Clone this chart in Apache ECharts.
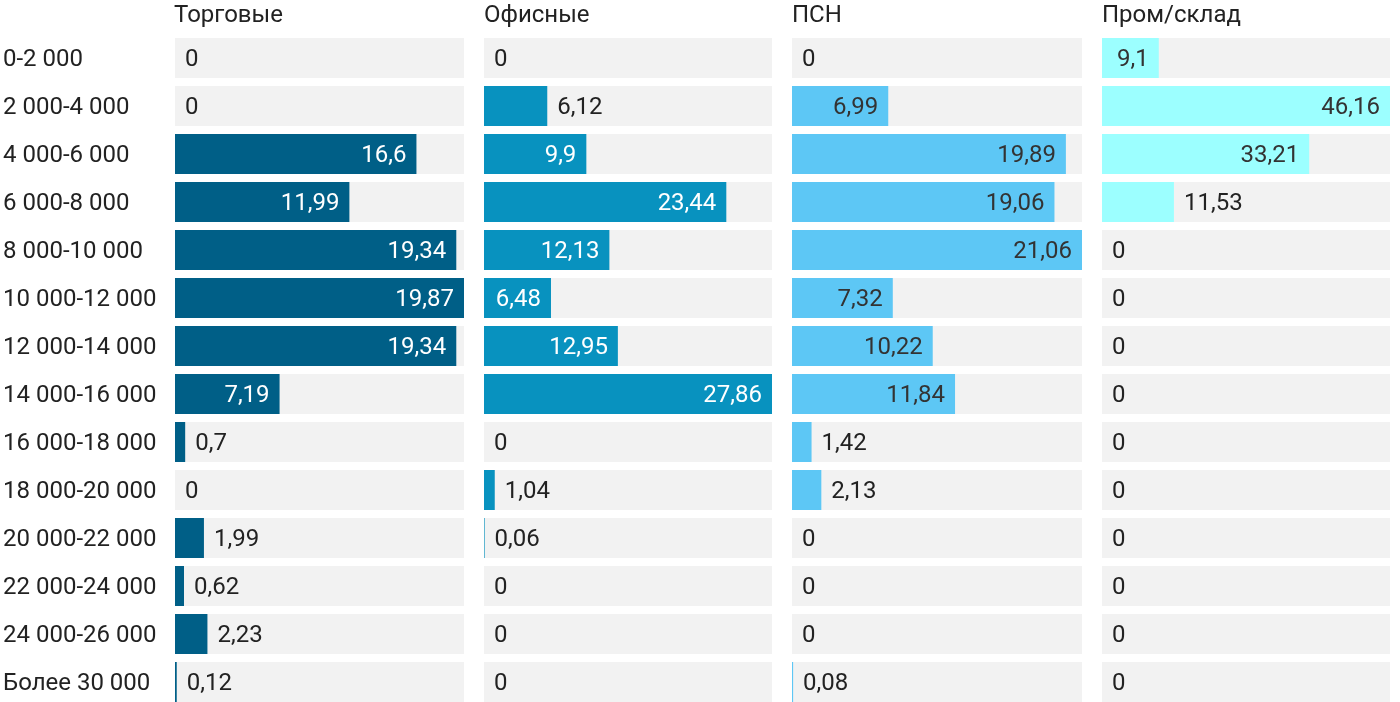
<!DOCTYPE html>
<html>
<head>
<meta charset="utf-8">
<script src="https://cdn.jsdelivr.net/npm/echarts@6/dist/echarts.min.js"></script>
<style>html,body{margin:0;padding:0;background:#fff;overflow:hidden;}#c{width:1400px;height:706px;}</style>
</head>
<body>
<div id="c"></div>
<script>
var categories = ['0-2 000','2 000-4 000','4 000-6 000','6 000-8 000','8 000-10 000','10 000-12 000','12 000-14 000','14 000-16 000','16 000-18 000','18 000-20 000','20 000-22 000','22 000-24 000','24 000-26 000','Более 30 000'];
var seriesNames = ['Торговые','Офисные','ПСН','Пром/склад'];
var torgovye = [0,0,16.6,11.99,19.34,19.87,19.34,7.19,0.7,0,1.99,0.62,2.23,0.12];
var ofisnye = [0,6.12,9.9,23.44,12.13,6.48,12.95,27.86,0,1.04,0.06,0,0,0];
var psn = [0,6.99,19.89,19.06,21.06,7.32,10.22,11.84,1.42,2.13,0,0,0,0.08];
var promsklad = [9.1,46.16,33.21,11.53,0,0,0,0,0,0,0,0,0,0];

var allData = [torgovye, ofisnye, psn, promsklad];
var colors = ['#005f87','#0892bf','#5dc7f5','#9cffff'];
var insideText = ['#ffffff','#ffffff','#333333','#333333'];
var lefts = [174,484,792,1102];
var widths = [290,288,290,288];
var FONT = 'Roboto, sans-serif';
var FS = 24;

var cnv = document.createElement('canvas').getContext('2d');
cnv.font = FS + 'px Roboto';
function fmt(v){ return String(v).replace('.', ','); }

var chart = echarts.init(document.getElementById('c'));
var grids = [], xAxes = [], yAxes = [], series = [], titles = [];
allData.forEach(function(d, i){
  var mx = Math.max.apply(null, d);
  grids.push({left: lefts[i], width: widths[i], top: 34, height: 672, containLabel: false});
  xAxes.push({type:'value', gridIndex:i, min:0, max:mx, show:false});
  yAxes.push({type:'category', gridIndex:i, data:categories, inverse:true,
    axisLine:{show:false}, axisTick:{show:false}, splitLine:{show:false},
    axisLabel:{show: i===0, align:'left', margin:172,
      formatter: function(v){ return '{a|' + v + '}'; },
      rich:{a:{color:'#222', fontSize:FS, fontFamily:FONT, padding:[4,0,0,0]}}}});
  titles.push({text: seriesNames[i], left: lefts[i], top: 4, padding: 0,
    textStyle:{fontSize:FS, fontWeight:'normal', color:'#222', fontFamily:FONT, lineHeight:24}});
  var items = d.map(function(v){
    var barPx = v / mx * widths[i];
    var tw = cnv.measureText(fmt(v)).width;
    var inside = v > 0 && barPx >= tw + 20;
    return {value: v, label: inside ?
      {position:'insideRight', distance:10, color: insideText[i]} :
      {position:'right', distance:10, color:'#222'}};
  });
  series.push({type:'bar', name: seriesNames[i], xAxisIndex:i, yAxisIndex:i, data: items,
    barCategoryGap:'16.67%', itemStyle:{color: colors[i]},
    showBackground:true, backgroundStyle:{color:'#f2f2f2'},
    label:{show:true, fontSize:FS, fontFamily:FONT, offset:[0,1.5], formatter:function(p){return fmt(p.value);}},
    animation:false});
});

chart.setOption({
  animation:false,
  title: titles,
  grid: grids,
  xAxis: xAxes,
  yAxis: yAxes,
  series: series
});
</script>
</body>
</html>
